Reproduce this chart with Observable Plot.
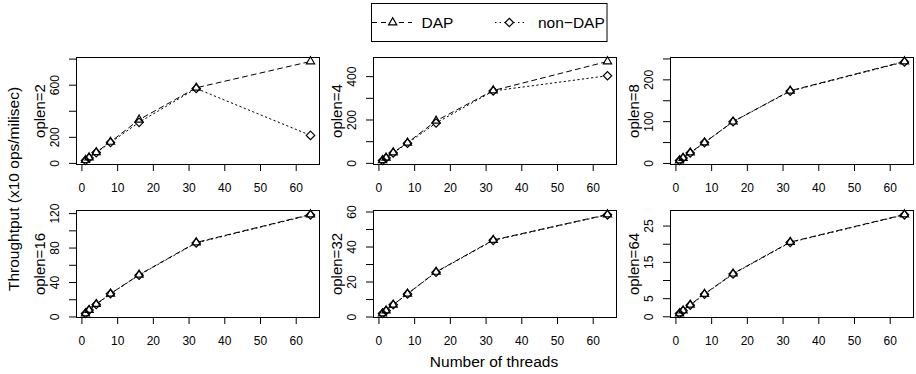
<!DOCTYPE html>
<html><head><meta charset="utf-8">
<script src="https://cdn.jsdelivr.net/npm/d3@7"></script>
<script src="https://cdn.jsdelivr.net/npm/@observablehq/plot@0.6"></script>
<style>
html,body{margin:0;padding:0;background:#fff;}
#chart{position:relative;width:916px;height:374px;overflow:hidden;font-family:"Liberation Sans",Arial,Helvetica,sans-serif;}
#chart svg{position:absolute;}
</style></head><body><div id="chart"></div>
<script>
// ---- data ----
const threads = [1, 2, 4, 8, 16, 32, 64];
const oplens = [2, 4, 8, 16, 32, 64];
const xTicks = [0, 10, 20, 30, 40, 50, 60];

const dap2  = [25, 45, 85, 165, 335, 580, 782];
const non2  = [22, 42, 83, 160, 315, 575, 215];
const dap4  = [14, 26, 50, 95, 196, 336, 470];
const non4  = [13, 25, 48, 93, 186, 334, 404];
const dap8  = [7, 13, 26, 50, 100, 174, 244];
const non8  = [7, 13, 25, 50, 100, 173, 243];
const dap16 = [4, 8, 15, 27, 49, 86.5, 119];
const non16 = [4, 8, 14.5, 27, 48.5, 86, 118.5];
const dap32 = [2, 3.7, 7, 13.3, 25.8, 44, 58.6];
const non32 = [2, 3.6, 7, 13.2, 25.6, 43.8, 58.4];
const dap64 = [0.9, 1.7, 3.3, 6.3, 11.9, 20.6, 28.2];
const non64 = [0.9, 1.7, 3.2, 6.2, 11.8, 20.5, 28.1];

const yTicks2  = [0, 200, 400, 600, 800];       const yLabels2  = [0, 200, 600];
const yTicks4  = [0, 100, 200, 300, 400];       const yLabels4  = [0, 200, 400];
const yTicks8  = [0, 50, 100, 150, 200, 250];   const yLabels8  = [0, 100, 200];
const yTicks16 = [0, 20, 40, 60, 80, 100, 120]; const yLabels16 = [0, 40, 80, 120];
const yTicks32 = [0, 10, 20, 30, 40, 50, 60];   const yLabels32 = [0, 20, 40, 60];
const yTicks64 = [0, 5, 10, 15, 20, 25];        const yLabels64 = [0, 5, 15, 25];

const seriesNames = ["DAP", "non\u2212DAP"];
const xTitle = "Number of threads";
const yTitle = "Throughtput (x10 ops/milisec)";

const dapAll = [dap2, dap4, dap8, dap16, dap32, dap64];
const nonAll = [non2, non4, non8, non16, non32, non64];
const tickAll = [yTicks2, yTicks4, yTicks8, yTicks16, yTicks32, yTicks64];
const labAll = [yLabels2, yLabels4, yLabels8, yLabels16, yLabels32, yLabels64];

// ---- layout ----
const FONT = '"Liberation Sans", Arial, Helvetica, sans-serif';
const W = 315, H = 143, ML = 70, MR = 2, MT = 4, MB = 32;
const innerW = W - ML - MR, innerH = H - MT - MB;
const colLeft = [6, 303, 600], rowTop = [53, 206];
const chart = document.getElementById("chart");

const xr = d3.max(threads) - d3.min(threads);
const xDomain = [d3.min(threads) - 0.04 * xr, d3.max(threads) + 0.04 * xr];

const DASH = "5,4", DOT = "1.4,3.2";
const SW = 1.2;

oplens.forEach((op, i) => {
  const col = i % 3, row = Math.floor(i / 3);
  const dapRows = threads.map((t, j) => ({t, v: dapAll[i][j]}));
  const nonRows = threads.map((t, j) => ({t, v: nonAll[i][j]}));
  const all = dapAll[i].concat(nonAll[i]);
  const lo = d3.min(all), hi = d3.max(all), r = hi - lo;
  const plot = Plot.plot({
    width: W, height: H,
    marginLeft: ML, marginRight: MR, marginTop: MT, marginBottom: MB,
    x: {domain: xDomain, axis: null},
    y: {domain: [lo - 0.04 * r, hi + 0.04 * r], axis: null},
    style: {background: "transparent", fontFamily: FONT, color: "#000", overflow: "visible"},
    marks: [
      Plot.line(dapRows, {x: "t", y: "v", stroke: "#000", strokeWidth: 1, strokeDasharray: DASH}),
      Plot.line(nonRows, {x: "t", y: "v", stroke: "#000", strokeWidth: 1, strokeDasharray: DOT}),
      Plot.dot(dapRows, {x: "t", y: "v", symbol: "triangle2", r: 3.9, fill: "white"}),
      Plot.dot(nonRows, {x: "t", y: "v", symbol: "diamond2", r: 3.8, fill: "white"}),
      Plot.dot(dapRows, {x: "t", y: "v", symbol: "triangle2", r: 3.9, fill: "none", stroke: "#000", strokeWidth: SW}),
      Plot.dot(nonRows, {x: "t", y: "v", symbol: "diamond2", r: 3.8, fill: "none", stroke: "#000", strokeWidth: SW}),
      Plot.frame({stroke: "#000", strokeWidth: 1}),
      Plot.ruleX(xTicks, {x: d => d, stroke: "#000", insetTop: innerH, insetBottom: -7}),
      Plot.text(xTicks, {x: d => d, text: d => String(d), frameAnchor: "bottom", lineAnchor: "middle", textAnchor: "middle", dy: 24, fontSize: 12, fill: "#000"}),
      Plot.ruleY(tickAll[i], {y: d => d, stroke: "#000", insetLeft: -7, insetRight: innerW}),
      Plot.text(labAll[i], {y: d => d, text: d => String(d), frameAnchor: "left", textAnchor: "middle", lineAnchor: "middle", dx: -21.5, rotate: -90, fontSize: 12, fill: "#000"}),
      Plot.text([`oplen=${op}`], {text: d => d, frameAnchor: "left", textAnchor: "middle", lineAnchor: "middle", dx: -36, rotate: -90, fontSize: 15, fill: "#000"})
    ]
  });
  plot.style.left = colLeft[col] + "px";
  plot.style.top = rowTop[row] + "px";
  chart.append(plot);
});

// ---- overlay: legend and outer titles ----
const ov = d3.create("svg").attr("width", 916).attr("height", 374)
  .style("left", "0px").style("top", "0px").style("pointer-events", "none")
  .attr("font-family", FONT);
ov.append("rect").attr("x", 371.5).attr("y", 3.5).attr("width", 235.5).attr("height", 38)
  .attr("fill", "none").attr("stroke", "#000");
const ly = 22.5;
ov.append("line").attr("x1", 372).attr("x2", 412).attr("y1", ly).attr("y2", ly)
  .attr("stroke", "#000").attr("stroke-dasharray", DASH);
ov.append("line").attr("x1", 495).attr("x2", 524).attr("y1", ly).attr("y2", ly)
  .attr("stroke", "#000").attr("stroke-dasharray", DOT);
const triSize = Math.PI * 3.9 * 3.9, diaSize = Math.PI * 3.8 * 3.8;
ov.append("path").attr("d", d3.symbol(d3.symbolTriangle2, triSize)())
  .attr("transform", `translate(392.7,${ly})`).attr("fill", "white").attr("stroke", "#000").attr("stroke-width", SW);
ov.append("path").attr("d", d3.symbol(d3.symbolDiamond2, diaSize)())
  .attr("transform", `translate(509.3,${ly})`).attr("fill", "white").attr("stroke", "#000").attr("stroke-width", SW);
ov.append("text").attr("x", 421.5).attr("y", ly).attr("dy", "0.35em").attr("font-size", 15.5).text(seriesNames[0]);
ov.append("text").attr("x", 538).attr("y", ly).attr("dy", "0.35em").attr("font-size", 15.5).text(seriesNames[1]);
ov.append("text").attr("x", 494).attr("y", 362).attr("dy", "0.35em").attr("text-anchor", "middle")
  .attr("font-size", 15.5).text(xTitle);
ov.append("text").attr("transform", "translate(14,189) rotate(-90)").attr("dy", "0.35em")
  .attr("text-anchor", "middle").attr("font-size", 15.5).text(yTitle);
chart.append(ov.node());
</script>
</body></html>
